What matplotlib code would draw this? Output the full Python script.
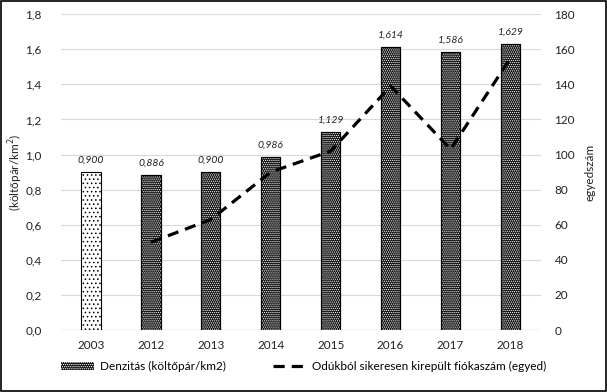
import matplotlib
matplotlib.use("Agg")
import matplotlib.pyplot as plt
from matplotlib.patches import Rectangle
from matplotlib.lines import Line2D
from matplotlib.ticker import FuncFormatter

years = ["2003", "2012", "2013", "2014", "2015", "2016", "2017", "2018"]
density = [0.900, 0.886, 0.900, 0.986, 1.129, 1.614, 1.586, 1.629]
fledglings_years = ["2012", "2013", "2014", "2015", "2016", "2017", "2018"]
fledglings = [50, 63, 90, 102, 139, 103, 155]

plt.rcParams['font.family'] = ['Lato', 'DejaVu Sans']
plt.rcParams['hatch.linewidth'] = 0.6

fig = plt.figure(figsize=(6.07, 3.92), dpi=100)
ax = fig.add_axes([0.1005, 0.158, 0.79, 0.806])
ax2 = ax.twinx()

x = list(range(len(years)))
w = 0.32
for i, (xi, v) in enumerate(zip(x, density)):
    if i == 0:
        ax.bar(xi, v, w, facecolor='white', edgecolor='black', hatch='....', linewidth=0.8, zorder=3)
    else:
        ax.bar(xi, v, w, facecolor='#111111', edgecolor='black', linewidth=0.8, zorder=3)
        ax.bar(xi, v, w, facecolor='none', edgecolor='white', hatch='........', linewidth=0, zorder=3)
        ax.bar(xi, v, w, facecolor='none', edgecolor='black', linewidth=0.8, zorder=3)
    ax.text(xi, v + 0.04, f"{v:.3f}".replace('.', ','), ha='center', va='bottom',
            fontsize=7.5, style='italic', color='#222222', zorder=4)

fx = [years.index(y) for y in fledglings_years]
ax2.plot(fx, fledglings, color='black', linestyle=(0, (3.5, 2.2)), linewidth=2.3, zorder=5)

ax.set_ylim(0, 1.8)
ax.set_yticks([i * 0.2 for i in range(10)])
ax.yaxis.set_major_formatter(FuncFormatter(lambda v, p: f"{v:.1f}".replace('.', ',')))
ax2.set_ylim(0, 180)
ax2.set_yticks(range(0, 181, 20))
ax.set_xlim(-0.5, len(years) - 0.5)
ax.set_xticks(x)
ax.set_xticklabels(years)

ax.grid(axis='y', color='#d9d9d9', linewidth=0.8, zorder=0)
ax.set_axisbelow(True)
for a in (ax, ax2):
    for s in ['top', 'left', 'right', 'bottom']:
        a.spines[s].set_visible(False)
    a.tick_params(length=0, labelsize=8.5, colors='#222222')
ax.axhline(0, color='#bfbfbf', linewidth=0.9, zorder=2)
ax.tick_params(axis='y', pad=14)
ax.tick_params(axis='x', pad=7)
ax2.tick_params(axis='y', pad=10)
ax2.set_zorder(ax.get_zorder() + 1)
ax2.patch.set_visible(False)

ax.set_ylabel("(költőpár/km$^{2}$)", fontsize=8.5, color='#222222', va='center')
ax.yaxis.set_label_coords(-0.095, 0.5)
ax2.set_ylabel("egyedszám", fontsize=8.5, color='#222222', va='center')
ax2.yaxis.set_label_coords(1.104, 0.5)

h1 = Rectangle((0, 0), 1, 1, facecolor='#111111', edgecolor='white', hatch='........', linewidth=0)
h2 = Line2D([0], [0], color='black', linestyle=(0, (3.5, 2.2)), linewidth=2.3)
fig.legend([h1, h2], ["Denzitás (költőpár/km2)", "Odúkból sikeresen kirepült fiókaszám (egyed)"],
           loc='center', bbox_to_anchor=(0.5, 0.064), ncol=2, frameon=False, fontsize=8.5,
           handlelength=2.8, columnspacing=4, handletextpad=0.5)

fig.patches.append(Rectangle((0.0015, 0.0015), 0.997, 0.997, transform=fig.transFigure,
                             fill=False, edgecolor='black', linewidth=1.2))
fig.savefig("out.png", dpi=100)
